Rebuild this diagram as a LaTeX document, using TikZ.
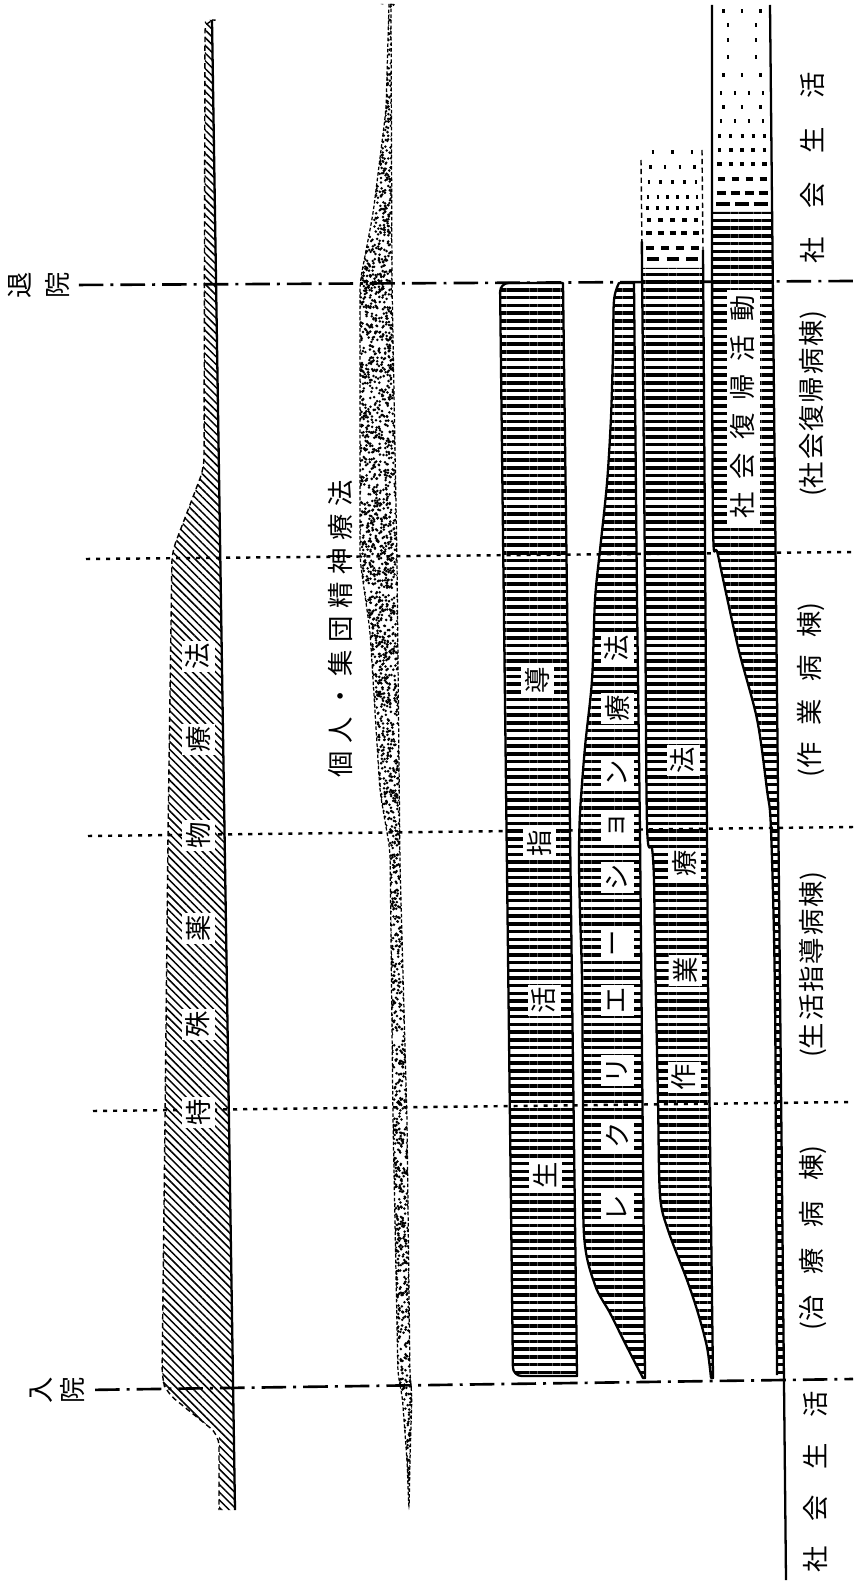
\documentclass[tikz,border=0pt]{standalone}
\usepackage{fontspec}
\newfontfamily\jpfont{Noto Sans CJK JP}
\usetikzlibrary{patterns.meta}

\newcommand{\spreadtext}[2]{{\def\gapx{\hspace{#1}}#2}}

\tikzset{
  bandedge/.style = {line width=1.3pt, line join=round},
  softedge/.style = {line width=0.8pt, dash pattern=on 3pt off 2pt},
  stipedge/.style = {line width=0.7pt, dash pattern=on 2pt off 1.2pt},
  stayline/.style = {line width=1.5pt, dash pattern=on 14pt off 4pt on 1.7pt off 4pt},
  wardline/.style = {line width=1.4pt, dash pattern=on 2.3pt off 3.4pt},
  stripes/.style  = {pattern={Lines[angle=0, distance=4.4pt, line width=2pt]}},
  hatch/.style    = {pattern={Lines[angle=-45, distance=3.1pt, line width=0.85pt]}},
  speck/.style    = {line width=1.8pt},
  jptext/.style   = {font=\jpfont\fontsize{15pt}{18pt}\selectfont, rotate=90, inner sep=0pt},
  bandchar/.style = {jptext, fill=white, minimum width=0.62cm, minimum height=0.66cm}
}

\begin{document}
\begin{tikzpicture}[x=0.02cm, y=-0.02cm]
\useasboundingbox (0,0) rectangle (853,1581);

% drug therapy band
\fill[hatch] (205,20) -- (212,20) -- (235,1510) -- (219,1510) -- (219,1435)
  [rounded corners=6pt] -- (166,1392) -- (162,1377) -- (165,1120) -- (168,835)
  -- (172,552) -- (204,468) [sharp corners] -- cycle;
\draw[bandedge] (212,20) -- (235,1510);
\draw[softedge, rounded corners=6pt] (212,20) -- (205,20) -- (204,468) -- (172,552)
  -- (168,835) -- (165,1120) -- (162,1377) -- (166,1392) -- (219,1435) -- (219,1510);

% psychotherapy band (stipple)
\begin{scope}
  \clip[rounded corners=6pt] (389,4) -- (386,110) -- (373,214) -- (360,282) -- (360,560)
    -- (370,631) -- (380,792) -- (390,850) -- (393,1120) -- (398,1377) -- (402,1393)
    -- (407,1460) -- (409,1512) -- (410,1460) -- (412,1393) -- (410,1377) -- (407,1120)
    -- (400,864) -- (397,560) -- (392,282) -- (391,4) -- cycle;
  \pgfmathsetseed{42}
  \foreach \ya/\yb/\xa/\xb/\nn in {0/290/355/396/1050, 290/860/355/403/2400, 860/1515/386/416/1700} {
    \foreach \k in {1,...,\nn} {
      \fill ({\xa+(\xb-\xa)*rnd},{\ya+(\yb-\ya)*rnd}) circle[radius=0.8pt];
    }
  }
\end{scope}
\draw[stipedge, rounded corners=6pt] (389,4) -- (386,110) -- (373,214) -- (360,282) -- (360,560)
  -- (370,631) -- (380,792) -- (390,850) -- (393,1120) -- (398,1377) -- (402,1393)
  -- (407,1460) -- (409,1512) -- (410,1460) -- (412,1393) -- (410,1377) -- (407,1120)
  -- (400,864) -- (397,560) -- (392,282) -- (391,4);

% living guidance band
\draw[bandedge, stripes] (563,283) -- (577,1376) [rounded corners=5pt] -- (513,1376) -- (500,283)
  [sharp corners] -- cycle;

% recreation band
\draw[bandedge, stripes] (634,283) -- plot[smooth, tension=0.5] coordinates {(619,283) (614,300)
  (613,350) (611,417) (607,483) (600,550) (595,600) (592,680) (585,747) (580,813) (579,860)
  (580,913) (582,980) (583,1100) (584,1235) (595,1285) (610,1313) (627,1347) (643,1378)}
  -- (645,1378) -- (640,833) -- (637,600) -- cycle;

% occupational band
\fill[stripes] plot[smooth, tension=0.5] coordinates {(642,268) (645,580) (647,825) (652,848)
  (654,880) (655,950) (658,1100) (660,1195) (668,1230) (687,1280) (698,1313) (707,1347) (711,1378)}
  -- (713,1378) -- (708,980) -- (703,268) -- cycle;
\draw[bandedge] plot[smooth, tension=0.5] coordinates {(642,250) (642,268) (645,580) (647,825)
  (652,848) (654,880) (655,950) (658,1100) (660,1195) (668,1230) (687,1280) (698,1313) (707,1347)
  (711,1378)} -- (713,1378) -- (708,980) -- (703,250);
\draw[softedge] (641,160) -- (642,250);
\draw[softedge] (702,150) -- (703,250);
\foreach \yy/\n/\len in {152/3/2.5, 167/4/2.5, 182/5/2.5, 197/6/2.5, 208/6/3, 220/5/4.5, 233/5/6, 248/4/8, 259/3/12} {
  \foreach \j in {1,...,\n} {
    \draw[speck] ({643+59*(\j-0.5)/\n-\len/2},\yy) -- ++(\len,0);
  }
}

% social return band
\fill[stripes] plot[smooth, tension=0.5] coordinates {(712,212) (713,525) (718,555) (738,647)
  (757,719) (767,790) (771,830) (775,1000) (777,1375)} -- (784,1375) -- (772,212) -- cycle;
\draw[bandedge] plot[smooth, tension=0.5] coordinates {(712,5) (712,212) (713,525) (718,555)
  (738,647) (757,719) (767,790) (771,830) (775,1000) (777,1375)};
\draw[bandedge] (770,5) -- (786,1580);
\foreach \yy/\n/\len in {11/3/2.5, 25/2/2.5, 40/2/2.5, 57/2/2.5, 75/3/2.5, 93/4/2.5, 107/3/2.5, 121/4/2.5,
  136/5/3, 150/5/3.5, 164/5/4.5, 179/4/7, 193/4/9, 204/3/14} {
  \foreach \j in {1,...,\n} {
    \draw[speck] ({714+56*(\j-0.5)/\n-\len/2},\yy) -- ++(\len,0);
  }
}

% admission / discharge
\node[jptext, align=center] (discharge) at (39,285) {退\\[3.5pt]院};
\node[jptext, align=center] (admit) at (57,1390) {入\\院};
\coordinate (dischargeR) at (853,281);
\coordinate (admitR) at (853,1379);
\draw[stayline, shorten <=5pt] (discharge.south) -- (dischargeR);
\draw[stayline, shorten <=6pt] (admit.south) -- (admitR);

% ward boundaries
\draw[wardline] (86,559) -- (853,552);
\draw[wardline] (88,836) -- (853,827);
\draw[wardline] (93,1111) -- (853,1102);

% band captions
\foreach \ch/\yy [count=\k] in {特/1112, 殊/1024, 薬/928, 物/835, 療/739, 法/656}
  \node[bandchar] (drug\k) at (198,\yy) {\ch};
\node[jptext] (psycho) at (340,629)
  {\spreadtext{1.5mm}{個\gapx 人\gapx ・\gapx 集\gapx 団\gapx 精\gapx 神\gapx 療\gapx 法}};
\foreach \ch/\xx/\yy [count=\k] in {生/545/1175, 活/544/1000, 指/539/843, 導/537/680}
  \node[bandchar] (guide\k) at (\xx,\yy) {\ch};
\foreach \ch/\yy [count=\k] in {レ/1208, ク/1135, リ/1070, エ/1000, ー/943, シ/877, ョ/825, ン/773, 療/708, 法/648}
  \node[bandchar] (recr\k) at (617,\yy) {\ch};
\foreach \ch/\xx/\yy [count=\k] in {作/684/1077, 業/685/970, 療/684/863, 法/683/760}
  \node[bandchar] (occu\k) at (\xx,\yy) {\ch};
\node[jptext, fill=white, minimum width=4.7cm, minimum height=0.66cm] (socret) at (743,407)
  {\spreadtext{2.6mm}{社\gapx 会\gapx 復\gapx 帰\gapx 活\gapx 動}};

% wards
\node[jptext] (wardA) at (813,168) {\spreadtext{5.7mm}{社\gapx 会\gapx 生\gapx 活}};
\node[jptext] (wardB) at (813,404) {\spreadtext{0.4mm}{(社\gapx 会\gapx 復\gapx 帰\gapx 病\gapx 棟)}};
\node[jptext] (wardC) at (811,690) {\spreadtext{3.5mm}{(作\gapx 業\gapx 病\gapx 棟)}};
\node[jptext] (wardD) at (813,965) {\spreadtext{0.4mm}{(生\gapx 活\gapx 指\gapx 導\gapx 病\gapx 棟)}};
\node[jptext] (wardE) at (813,1238) {\spreadtext{4.1mm}{(治\gapx 療\gapx 病\gapx 棟)}};
\node[jptext] (wardF) at (816,1482) {\spreadtext{5.1mm}{社\gapx 会\gapx 生\gapx 活}};
\end{tikzpicture}
\end{document}
